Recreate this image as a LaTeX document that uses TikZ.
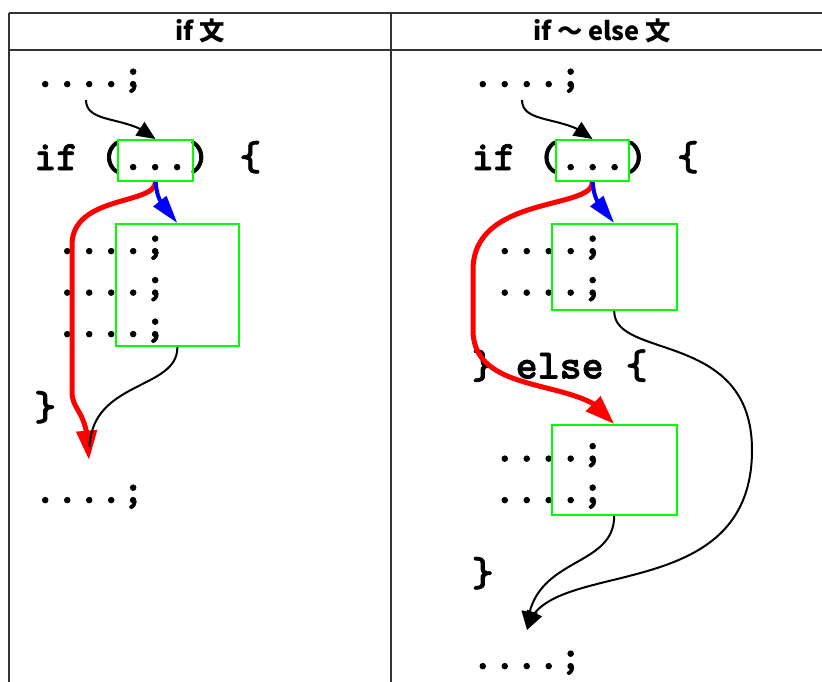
\documentclass[tikz,border=0pt]{standalone}
\usepackage{fontspec}
\newfontfamily\codefont{lmmonolt10-bold}[Extension=.otf, FakeBold=1.6]
\newfontfamily\jpfont{Noto Sans CJK JP}
\usetikzlibrary{arrows.meta,bending,fit}
\definecolor{gboxc}{RGB}{0,255,0}
\definecolor{tablec}{RGB}{51,51,51}
\tikzset{
  code/.style={font=\codefont\fontsize{31.4}{31.4}\selectfont, inner sep=0pt, anchor=base west},
  head/.style={font=\jpfont\bfseries\fontsize{19}{19}\selectfont, inner sep=0pt},
  tableline/.style={draw=tablec, line width=1.5pt},
  gbox/.style={draw=gboxc, line width=1.5pt, inner sep=0pt},
  blackarrow/.style={draw=black, line width=1.5pt, -{Triangle[length=14pt,width=12pt]}},
  blackline/.style={draw=black, line width=1.5pt},
  redarrow/.style={draw=red, line width=3.75pt, -{Triangle[length=22pt,width=15pt]}},
  bluearrow/.style={draw=blue, line width=3pt, -{Triangle[length=21pt,width=12pt]}},
}
\begin{document}
\begin{tikzpicture}[x=0.75pt,y=-0.75pt]
\useasboundingbox (0,0) rectangle (822,682);
% table
\draw[tableline] (9,12.5) -- (830,12.5);
\draw[tableline] (9,50) -- (830,50);
\draw[tableline] (9,12.5) -- (9,690);
\draw[tableline] (391,12.5) -- (391,690);
\node[head] (h1) at (200,31) {if 文};
\node[head] (h2) at (602,31) {if ～ else 文};
% left code
\node[code] (l0) at (34,87) {....;};
\node[code] (l1) at (34,170) {if (...) \{};
\node[code] (l2) at (56,254) {....;};
\node[code] (l3) at (56,295.5) {....;};
\node[code] (l4) at (56,337) {....;};
\node[code] (l5) at (34,420) {\}};
\node[code] (l6) at (34,503) {....;};
% right code
\node[code] (r0) at (471.5,87) {....;};
\node[code] (r1) at (471.5,170) {if (...) \{};
\node[code] (r2) at (493.5,254) {....;};
\node[code] (r3) at (493.5,295.5) {....;};
\node[code] (r4) at (471.5,378.5) {\} else \{};
\node[code] (r5) at (493.5,461.5) {....;};
\node[code] (r6) at (493.5,503) {....;};
\node[code] (r7) at (471.5,586) {\}};
\node[code] (r8) at (471.5,669) {....;};
% boxes
\node[gbox, fit={(118,140) (193,181)}] (c1) {};
\node[gbox, fit={(115.7,224) (239,346)}] (b1) {};
\node[gbox, fit={(555.7,140) (629.3,181)}] (c2) {};
\node[gbox, fit={(551.7,224) (676.7,310)}] (b2) {};
\node[gbox, fit={(551.7,425) (676.7,515)}] (b3) {};
% coordinates
\coordinate (s1) at (86,100);
\coordinate (s2) at (522,100);
\coordinate (tipL) at (89,460);
\coordinate (endL) at (89.5,447);
\coordinate (tipR) at (527,630);
% left arrows
\draw[blackarrow] (s1) .. controls (86,125) and (130,115) .. (c1.north);
\draw[redarrow] (c1.south) .. controls (155,205) and (72,195) .. (72,245) -- (72,392) .. controls (72,412) and (89,410) .. (tipL);
\draw[bluearrow] (c1.south) .. controls (158,200) .. (b1.north);
\draw[blackline] (b1.south) .. controls (178,390) and (92,380) .. (endL);
% right arrows
\draw[blackarrow] (s2) .. controls (522,125) and (567,115) .. (c2.north);
\draw[redarrow] (c2.south) .. controls (593,210) and (473,195) .. (473,270) -- (473,330) .. controls (473,400) and (590,375) .. (b3.north);
\draw[bluearrow] (c2.south) .. controls (595,200) .. (b2.north);
\draw[blackarrow] (b2.south) .. controls (614,360) and (752,330) .. (752,450) .. controls (752,610) and (540,555) .. (tipR);
\draw[blackarrow] (b3.south) .. controls (614,570) and (530,555) .. (tipR);
\end{tikzpicture}
\end{document}
